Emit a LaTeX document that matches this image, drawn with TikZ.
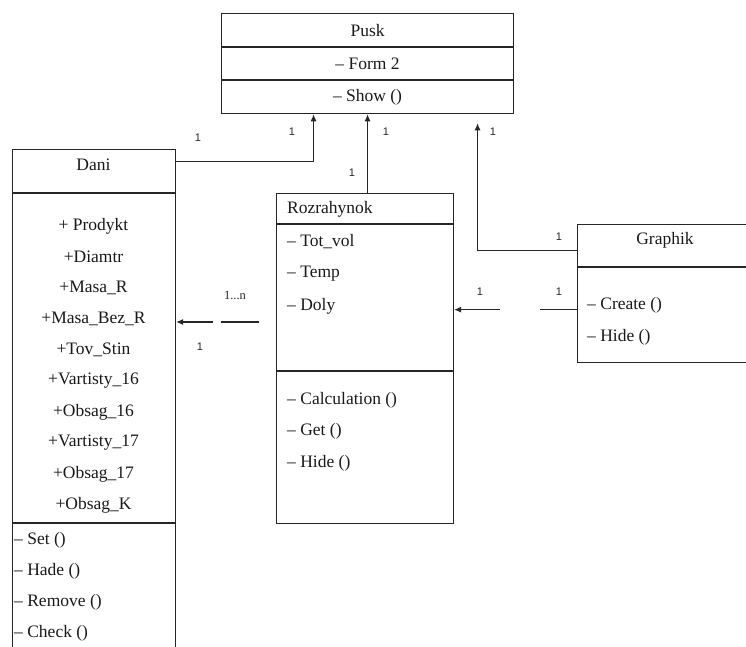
\documentclass[tikz,border=0pt]{standalone}
\usepackage{fontspec}
\setmainfont{Liberation Serif}
\setsansfont{Liberation Sans}
\usetikzlibrary{positioning,arrows.meta}

\tikzset{
  box/.style={draw=black!85, line width=1.1pt, rectangle, inner sep=0pt, anchor=north west},
  item/.style={inner sep=0pt, text=black!90, font=\fontsize{17.5}{19}\selectfont},
  mult/.style={inner sep=0pt, text=black!85, font=\fontsize{11}{12}\selectfont\sffamily},
  link/.style={draw=black!85, line width=1.1pt},
  arr/.style={link, -{Latex[length=7pt,width=6pt]}}
}

\begin{document}
\begin{tikzpicture}[x=1pt, y=-1pt]
    \useasboundingbox (0,0) rectangle (746,646);
    \clip (0,0) rectangle (746,646);

    % Pusk
    \node[box, item, minimum width=292pt, minimum height=33pt] (pusktitle) at (221,13) {Pusk};
    \node[box, item, minimum width=292pt, minimum height=32pt] (puskattr) at (pusktitle.south west) {-- Form 2};
    \node[box, item, minimum width=292pt, minimum height=33pt] (puskops) at (puskattr.south west) {-- Show ()};

    % Dani
    \node[box, minimum width=163pt, minimum height=43pt] (danititle) at (12,149) {};
    \node[box, minimum width=163pt, minimum height=329pt] (daniattr) at (danititle.south west) {};
    \node[box, minimum width=163pt, minimum height=140pt] (daniops) at (daniattr.south west) {};
    \node[item] (daniname) at (93.5,165) {Dani};
    \foreach \t [count=\i] in {+ Prodykt, +Diamtr, +Masa\_R, +Masa\_Bez\_R, +Tov\_Stin,
        +Vartisty\_16, +Obsag\_16, +Vartisty\_17, +Obsag\_17, +Obsag\_K}
        \node[item] (dattr\i) at (93.5,195+31*\i) {\t};
    \foreach \t [count=\i] in {Set (), Hade (), Remove (), Check ()}
        \node[item, anchor=west] (dop\i) at (14,509+31*\i) {-- \t};

    % Rozrahynok
    \node[box, minimum width=177pt, minimum height=30pt] (roztitle) at (276,193) {};
    \node[box, minimum width=177pt, minimum height=146pt] (rozattr) at (roztitle.south west) {};
    \node[box, minimum width=177pt, minimum height=152pt] (rozops) at (rozattr.south west) {};
    \node[item, anchor=west] (rozname) at (287,209) {Rozrahynok};
    \foreach \t [count=\i] in {Tot\_vol, Temp, Doly}
        \node[item, anchor=west] (rattr\i) at (287,210+32*\i) {-- \t};
    \foreach \t [count=\i] in {Calculation (), Get (), Hide ()}
        \node[item, anchor=west] (rop\i) at (287,368.5+31.5*\i) {-- \t};

    % Graphik
    \node[box, minimum width=180pt, minimum height=42pt] (graphtitle) at (577,224) {};
    \node[box, minimum width=180pt, minimum height=95pt] (graphops) at (graphtitle.south west) {};
    \node[item] (graphname) at (665,240) {Graphik};
    \node[item, anchor=west] (gop1) at (587,305) {-- Create ()};
    \node[item, anchor=west] (gop2) at (587,337) {-- Hide ()};

    % connectors
    \draw[arr] ([yshift=9.5pt]danititle.east) -| ([xshift=-54pt]puskops.south);
    \draw[arr] ([xshift=2.5pt]roztitle.north) -- ([xshift=2.5pt]roztitle.north |- puskops.south);
    \draw[arr] ([yshift=-5pt]graphtitle.west) -| ([xshift=110pt,yshift=-9pt]puskops.south);
    \draw[link] ([yshift=5.5pt]graphops.west) -- ++(-37pt,0) coordinate (gr1);
    \draw[arr] ([xshift=-40pt]gr1) -- (rozattr.east |- gr1);
    \coordinate (rd1) at (259,322);
    \draw[link] (rd1) -- ++(-38pt,0) coordinate (rd2);
    \draw[arr] ([xshift=-8pt]rd2) -- (daniattr.east |- rd2);

    % multiplicities
    \node[mult] (m1) at (198,138) {1};
    \node[mult] (m2) at (292,132) {1};
    \node[mult] (m3) at (386,132) {1};
    \node[mult] (m4) at (493,132) {1};
    \node[mult] (m5) at (352,173) {1};
    \node[mult] (m6) at (559,237) {1};
    \node[mult] (m7) at (480,292) {1};
    \node[mult] (m8) at (559,292) {1};
    \node[mult, font=\fontsize{12.5}{13}\selectfont] (m9) at (235,295) {1...n};
    \node[mult] (m10) at (200,347) {1};
\end{tikzpicture}
\end{document}
